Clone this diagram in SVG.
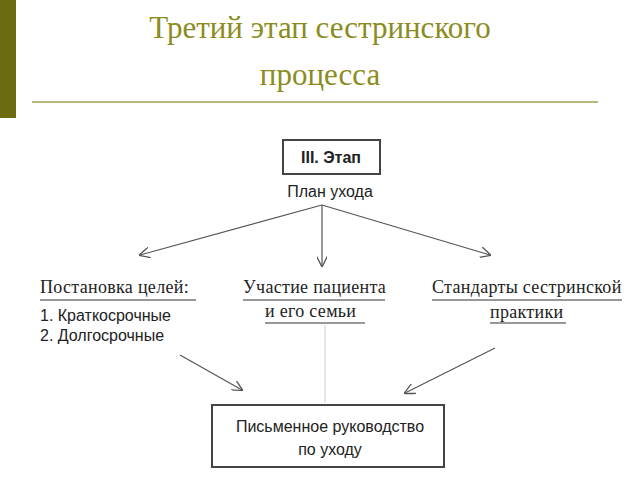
<svg xmlns="http://www.w3.org/2000/svg" width="640" height="480" viewBox="0 0 640 480">
<defs>
<style>
.t{font-family:"Liberation Serif",serif;font-size:31px;fill:#8c8c1e;text-anchor:middle}
.s{font-family:"Liberation Sans",Arial,sans-serif;font-size:16px;fill:#222}
.r{font-family:"Liberation Serif",serif;font-size:18px;fill:#222;letter-spacing:0.3px}
.c{stroke:#555;stroke-width:1.2;fill:none;marker-end:url(#a)}
.u{stroke:#333;stroke-width:1}
.b{fill:#fff;stroke:#444;stroke-width:2}
</style>
<marker id="a" viewBox="0 0 10 10" refX="9" refY="5" markerWidth="9" markerHeight="9" orient="auto"><path d="M0,0 L10,5 L0,10" fill="none" stroke="#555" stroke-width="1.2"/></marker>
</defs>
<rect width="640" height="480" fill="#fff"/>
<rect x="0" y="0" width="16" height="118" fill="#6b6b10"/>
<text class="t" x="320" y="38">Третий этап сестринского</text>
<text class="t" x="320" y="85">процесса</text>
<line x1="32" y1="102" x2="598" y2="102" stroke="#a0a050" stroke-width="1.5"/>
<g id="stage"><rect class="b" x="283" y="140" width="97" height="34"/><text class="s" x="331" y="163" text-anchor="middle" font-weight="bold" font-size="17">III. Этап</text><text class="s" x="330" y="197" text-anchor="middle" font-size="17">План ухода</text></g>
<g id="goals"><text class="r" x="40" y="293">Постановка целей:</text><line class="u" x1="40" y1="300" x2="196" y2="300"/><text class="s" x="40" y="321">1. Краткосрочные</text><text class="s" x="40" y="341">2. Долгосрочные</text></g>
<g id="patient"><text class="r" x="243" y="293">Участие пациента</text><line class="u" x1="243" y1="300" x2="385" y2="300"/><text class="r" x="265" y="317">и его семьи</text><line class="u" x1="265" y1="323" x2="365" y2="323"/></g>
<g id="standards"><text class="r" x="432" y="293">Стандарты сестринской</text><line class="u" x1="432" y1="300" x2="622" y2="300"/><text class="r" x="490" y="318">практики</text><line class="u" x1="490" y1="323" x2="566" y2="323"/></g>
<g id="guide"><rect class="b" x="212" y="405" width="232" height="62"/><text class="s" x="330" y="432" text-anchor="middle">Письменное руководство</text><text class="s" x="330" y="455" text-anchor="middle">по уходу</text></g>
<g id="connectors">
<path class="c" d="M322,205 L140,255"/>
<path class="c" d="M322,205 L322,266"/>
<path class="c" d="M322,205 L490,255"/>
<path class="c" d="M180,355 L242,390"/>
<path class="c" d="M495,348 L405,393"/>
<line x1="325" y1="325" x2="325" y2="403" stroke="#ccc" stroke-width="1"/>
</g>
</svg>
